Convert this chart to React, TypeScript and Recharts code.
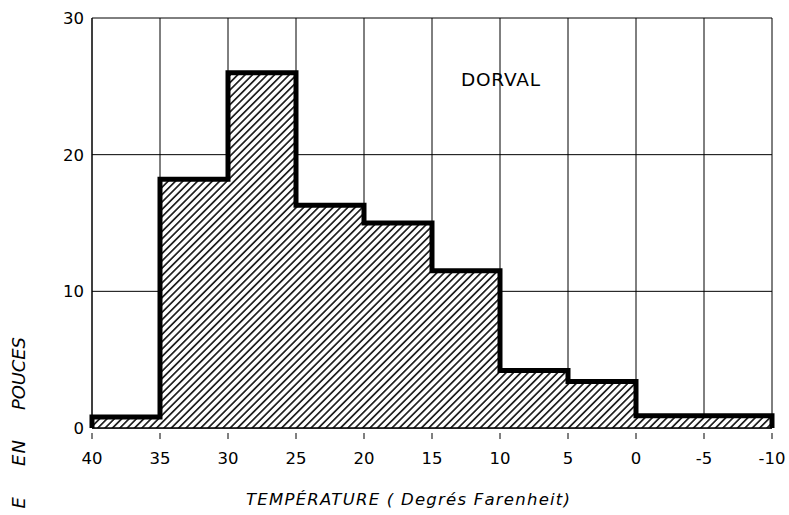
import React from "react";
import { ComposedChart, Area, XAxis, YAxis, CartesianGrid } from "recharts";

const temps = [40, 40, 35, 30, 25, 20, 15, 10, 5, 0, -5, -10, -10];
const precip = [0, 0.8, 18.2, 26.0, 16.3, 15.0, 11.5, 4.2, 3.4, 0.9, 0.9, 0.9, 0];
const xTicks = [40, 35, 30, 25, 20, 15, 10, 5, 0, -5, -10];
const yTicks = [0, 10, 20, 30];
const stationName = "DORVAL";
const xTitle = "TEMPÉRATURE ( Degrés Farenheit)";
const yTitleWords = ["E", "EN", "POUCES"];

const data = temps.map((t, i) => ({ t, p: precip[i] }));

const FONT = "'DejaVu Sans', sans-serif";

// layout of the rotated y-title words: [top end y, length]
const yWordLayout = [
  [497, 12],
  [440, 26],
  [337, 73],
];

const XTick = (props: any) => {
  const { x, y, payload } = props;
  return (
    <g>
      <line x1={x} x2={x} y1={y + 5} y2={y + 11} stroke="#000" strokeWidth={1} />
      <text x={x} y={y + 36} textAnchor="middle" fontSize={16.5} fontFamily={FONT} fill="#000">
        {payload.value}
      </text>
    </g>
  );
};

export default function App() {
  return (
    <div style={{ position: "absolute", left: 0, top: 0, width: 789, height: 515, background: "#fff" }}>
      <ComposedChart
        width={789}
        height={515}
        data={data}
        margin={{ top: 18, right: 17, left: 32, bottom: 47 }}
      >
        <defs>
          <pattern id="hatch" patternUnits="userSpaceOnUse" width="5.2" height="5.2" patternTransform="rotate(45)">
            <rect x="0" y="0" width="5.2" height="5.2" fill="#fff" />
            <line x1="2.6" y1="0" x2="2.6" y2="5.2" stroke="#000" strokeWidth="1.5" />
          </pattern>
        </defs>
        <CartesianGrid stroke="#000" strokeWidth={1} horizontalValues={yTicks} verticalValues={xTicks} />
        <XAxis
          dataKey="t"
          type="number"
          domain={[-10, 40]}
          reversed
          ticks={xTicks}
          interval={0}
          height={40}
          tickSize={0}
          tickMargin={0}
          tickLine={false}
          axisLine={{ stroke: "#000", strokeWidth: 1.5 }}
          tick={<XTick />}
        />
        <YAxis
          type="number"
          domain={[0, 30]}
          ticks={yTicks}
          width={60}
          tickLine={false}
          axisLine={{ stroke: "#000", strokeWidth: 1 }}
          tick={{ fill: "#000", fontSize: 16.5, fontFamily: FONT }}
        />
        <Area
          dataKey="p"
          type="stepAfter"
          stroke="#000"
          strokeWidth={5}
          strokeLinejoin="miter"
          fill="url(#hatch)"
          fillOpacity={1}
          isAnimationActive={false}
          dot={false}
          activeDot={false}
        />
      </ComposedChart>
      <svg
        width={789}
        height={515}
        style={{ position: "absolute", left: 0, top: 0, pointerEvents: "none" }}
      >
        <text
          x={461}
          y={86}
          fontSize={18.5}
          fontFamily={FONT}
          fill="#000"
          textLength={79}
          lengthAdjust="spacing"
        >
          {stationName}
        </text>
        <text
          x={246}
          y={505}
          fontSize={16.5}
          fontStyle="italic"
          fontFamily={FONT}
          fill="#000"
          textLength={324}
          lengthAdjust="spacing"
        >
          {xTitle}
        </text>
        {yTitleWords.map((w, i) => {
          const [yTop, len] = yWordLayout[i];
          return (
            <text
              key={w + i}
              x={25}
              y={yTop}
              transform={`rotate(-90, 25, ${yTop})`}
              textAnchor="end"
              fontSize={18}
              fontStyle="italic"
              fontFamily={FONT}
              fill="#000"
              textLength={len}
              lengthAdjust="spacing"
            >
              {w}
            </text>
          );
        })}
      </svg>
    </div>
  );
}
